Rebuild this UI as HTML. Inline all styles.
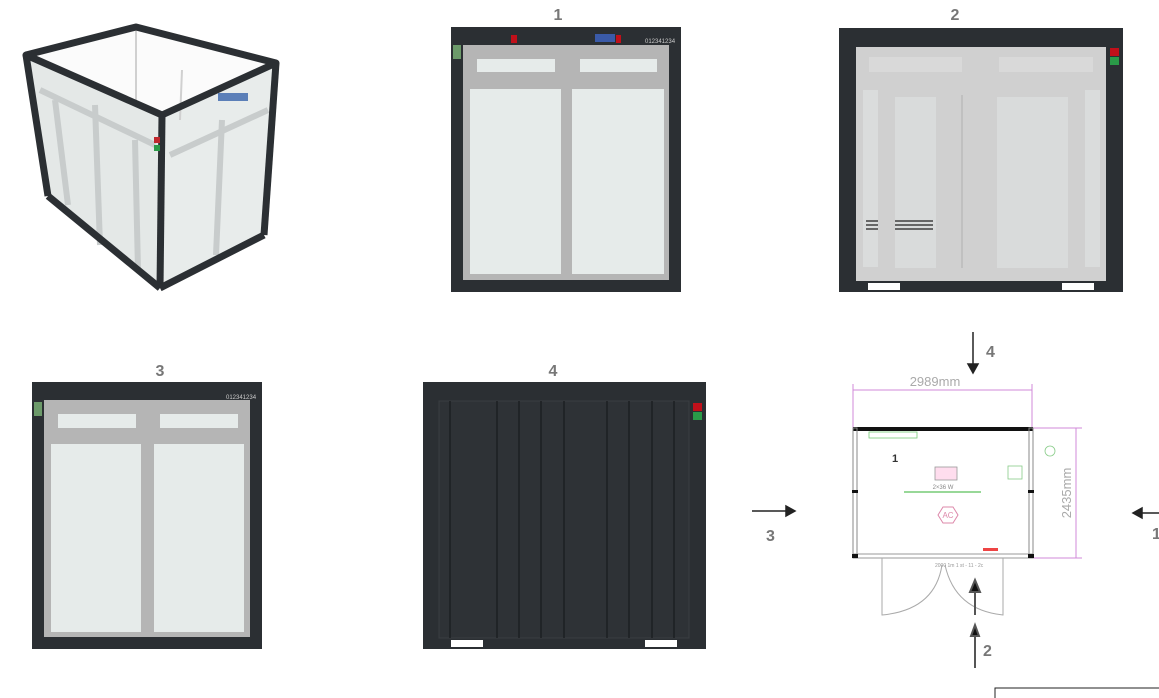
<!DOCTYPE html>
<html><head><meta charset="utf-8"><style>
html,body{margin:0;padding:0;background:#fff;}
svg{display:block;font-family:"Liberation Sans",sans-serif;}
</style></head><body>
<svg width="1159" height="698" viewBox="0 0 1159 698" xmlns="http://www.w3.org/2000/svg">
<rect width="1159" height="698" fill="#fff"/>
<!-- 3D view -->
<g>
<polygon points="26,55 136,27 276,63 162,115" fill="#fbfbfb"/>
<polygon points="162,115 276,63 264,235 160,288" fill="#e8eceb"/>
<polygon points="26,55 162,115 160,288 48,196" fill="#e4e8e7"/>
<g fill="none" stroke="#c8cccc" stroke-width="6">
<line x1="40" y1="90" x2="155" y2="145"/><line x1="95" y1="105" x2="100" y2="245"/>
<line x1="170" y1="155" x2="268" y2="110"/><line x1="222" y1="120" x2="216" y2="255"/>
<line x1="55" y1="100" x2="68" y2="205"/><line x1="135" y1="140" x2="138" y2="270"/>
</g>
<g fill="none" stroke="#d0d0d0" stroke-width="2"><line x1="136" y1="27" x2="136" y2="105"/><line x1="182" y1="70" x2="180" y2="120"/></g>
<g fill="none" stroke="#2b2f33" stroke-width="7" stroke-linejoin="round">
<polygon points="26,55 136,27 276,63 162,115"/>
<line x1="162" y1="115" x2="160" y2="288"/>
<line x1="26" y1="55" x2="48" y2="196"/>
<line x1="276" y1="63" x2="264" y2="235"/>
<line x1="48" y1="196" x2="160" y2="288"/>
<line x1="160" y1="288" x2="264" y2="235"/>
</g>
<rect x="154" y="137" width="6" height="6" fill="#c0282e"/><rect x="154" y="145" width="6" height="6" fill="#2a9a48"/>
<rect x="218" y="93" width="30" height="8" fill="#5b7fb8"/>
</g>
<!-- View 1 -->
<text x="558" y="20" font-size="16" font-weight="bold" fill="#777" text-anchor="middle">1</text>
<rect x="451" y="27" width="230" height="265" fill="#2b2f33"/>
<rect x="463" y="45" width="206" height="235" fill="#b5b5b5"/>
<rect x="477" y="59" width="78" height="13" fill="#e6ebea"/><rect x="580" y="59" width="77" height="13" fill="#e6ebea"/>
<rect x="470" y="89" width="91" height="185" fill="#e6ebea"/><rect x="572" y="89" width="92" height="185" fill="#e6ebea"/>
<rect x="511" y="35" width="6" height="8" fill="#c0101a"/><rect x="595" y="34" width="20" height="8" fill="#3a5aa8"/><rect x="616" y="35" width="5" height="8" fill="#c0101a"/>
<text x="645" y="43" font-size="6" fill="#ccc">012341234</text>
<rect x="453" y="45" width="8" height="14" fill="#6c9a6a"/>
<!-- View 2 -->
<text x="955" y="20" font-size="16" font-weight="bold" fill="#777" text-anchor="middle">2</text>
<rect x="839" y="28" width="284" height="264" fill="#2b2f33"/>
<rect x="856" y="47" width="250" height="234" fill="#d0d0d0"/>
<rect x="869" y="57" width="93" height="15" fill="#d9d9d9"/><rect x="999" y="57" width="94" height="15" fill="#d9d9d9"/>
<rect x="863" y="90" width="15" height="177" fill="#dadcdc"/><rect x="895" y="97" width="41" height="171" fill="#d9dbdb"/>
<rect x="997" y="97" width="71" height="171" fill="#d9dbdb"/><rect x="1085" y="90" width="15" height="177" fill="#dadcdc"/>
<line x1="962" y1="95" x2="962" y2="268" stroke="#bbb" stroke-width="1.5"/>
<g fill="#666"><rect x="866" y="220" width="12" height="2"/><rect x="866" y="224" width="12" height="2"/><rect x="866" y="228" width="12" height="2"/>
<rect x="895" y="220" width="38" height="2"/><rect x="895" y="224" width="38" height="2"/><rect x="895" y="228" width="38" height="2"/></g>
<rect x="1110" y="48" width="9" height="8" fill="#c0101a"/><rect x="1110" y="57" width="9" height="8" fill="#2a9a48"/>
<rect x="868" y="283" width="32" height="7" fill="#fff"/><rect x="1062" y="283" width="32" height="7" fill="#fff"/>
<!-- View 3 -->
<text x="160" y="376" font-size="16" font-weight="bold" fill="#777" text-anchor="middle">3</text>
<rect x="32" y="382" width="230" height="267" fill="#2b2f33"/>
<rect x="44" y="400" width="206" height="237" fill="#b5b5b5"/>
<rect x="58" y="414" width="78" height="14" fill="#e6ebea"/><rect x="160" y="414" width="78" height="14" fill="#e6ebea"/>
<rect x="51" y="444" width="90" height="188" fill="#e6ebea"/><rect x="154" y="444" width="90" height="188" fill="#e6ebea"/>
<text x="226" y="399" font-size="6" fill="#ccc">012341234</text>
<rect x="34" y="402" width="8" height="14" fill="#6c9a6a"/>
<!-- View 4 -->
<text x="553" y="376" font-size="16" font-weight="bold" fill="#777" text-anchor="middle">4</text>
<rect x="423" y="382" width="283" height="267" fill="#2b2f33"/>
<rect x="439" y="401" width="250" height="237" fill="#2e3236" stroke="#3a3e42"/>
<g stroke="#1c1f22" stroke-width="1.5">
<line x1="450" y1="401" x2="450" y2="638"/><line x1="497" y1="401" x2="497" y2="638"/><line x1="519" y1="401" x2="519" y2="638"/>
<line x1="541" y1="401" x2="541" y2="638"/><line x1="564" y1="401" x2="564" y2="638"/><line x1="607" y1="401" x2="607" y2="638"/>
<line x1="629" y1="401" x2="629" y2="638"/><line x1="652" y1="401" x2="652" y2="638"/><line x1="674" y1="401" x2="674" y2="638"/></g>
<rect x="693" y="403" width="9" height="8" fill="#c0101a"/><rect x="693" y="412" width="9" height="8" fill="#2a9a48"/>
<rect x="451" y="640" width="32" height="7" fill="#fff"/><rect x="645" y="640" width="32" height="7" fill="#fff"/>
<!-- Floor plan -->
<g fill="none" stroke="#d08ad8" stroke-width="1">
<line x1="853" y1="390" x2="1032" y2="390"/><line x1="853" y1="384" x2="853" y2="428"/><line x1="1032" y1="384" x2="1032" y2="428"/>
<line x1="1076" y1="428" x2="1076" y2="558"/><line x1="1033" y1="428" x2="1082" y2="428"/><line x1="1033" y1="558" x2="1082" y2="558"/>
</g>
<text x="935" y="386" font-size="13" fill="#aaa" text-anchor="middle">2989mm</text>
<text x="1071" y="493" font-size="13" fill="#aaa" text-anchor="middle" transform="rotate(-90 1071 493)">2435mm</text>
<rect x="853" y="428" width="180" height="130" fill="#fff" stroke="#999" stroke-width="1"/>
<rect x="853" y="427" width="180" height="4" fill="#111"/>
<rect x="853" y="428" width="4" height="130" fill="none" stroke="#888" stroke-width="1"/>
<rect x="1029" y="428" width="4" height="130" fill="none" stroke="#888" stroke-width="1"/>
<line x1="853" y1="554" x2="1033" y2="554" stroke="#999"/>
<rect x="852" y="554" width="6" height="4" fill="#111"/><rect x="1028" y="554" width="6" height="4" fill="#111"/>
<rect x="852" y="490" width="6" height="3" fill="#111"/><rect x="1028" y="490" width="6" height="3" fill="#111"/>
<text x="895" y="462" font-size="11" font-weight="bold" fill="#333" text-anchor="middle">1</text>
<rect x="869" y="432" width="48" height="6" fill="none" stroke="#7c7" stroke-width="0.8"/>
<rect x="935" y="467" width="22" height="13" fill="#fde" stroke="#999" stroke-width="0.8"/>
<line x1="904" y1="492" x2="981" y2="492" stroke="#7c7" stroke-width="1.5"/>
<text x="943" y="489" font-size="6" fill="#888" text-anchor="middle">2×36 W</text>
<polygon points="938,515 943,507 953,507 958,515 953,523 943,523" fill="none" stroke="#d8a" stroke-width="1"/>
<text x="948" y="518" font-size="8" fill="#d8a" text-anchor="middle">AC</text>
<circle cx="1050" cy="451" r="5" fill="none" stroke="#8c8" stroke-width="0.8"/>
<rect x="1008" y="466" width="14" height="13" fill="none" stroke="#8c8" stroke-width="0.8"/>
<rect x="983" y="548" width="15" height="3" fill="#e44"/>
<text x="935" y="567" font-size="5" fill="#999">2000 1m 1 st - 11 - 2c</text>
<g fill="none" stroke="#aaa" stroke-width="1">
<path d="M882,558 L882,615 Q935,610 942,565"/><path d="M1003,558 L1003,615 Q955,610 945,565"/>
</g>
<!-- arrows -->
<g stroke="#222" stroke-width="1.5" fill="#222">
<line x1="973" y1="332" x2="973" y2="366"/><polygon points="968,364 978,364 973,373"/>
<line x1="752" y1="511" x2="788" y2="511"/><polygon points="786,506 786,516 795,511"/>
<line x1="1159" y1="513" x2="1141" y2="513"/><polygon points="1142,508 1142,518 1133,513"/>
</g>
<g stroke="#555" stroke-width="2" fill="#111">
<line x1="975" y1="588" x2="975" y2="615"/><polygon points="970,592 980,592 975,580"/>
<line x1="975" y1="633" x2="975" y2="668"/><polygon points="971,636 979,636 975,625"/>
</g>
<g font-size="16" font-weight="bold" fill="#777">
<text x="986" y="357">4</text><text x="766" y="541">3</text><text x="1152" y="539">1</text><text x="983" y="656">2</text>
</g>
<rect x="995" y="688" width="170" height="20" fill="none" stroke="#222" stroke-width="1"/>
</svg>
</body></html>
